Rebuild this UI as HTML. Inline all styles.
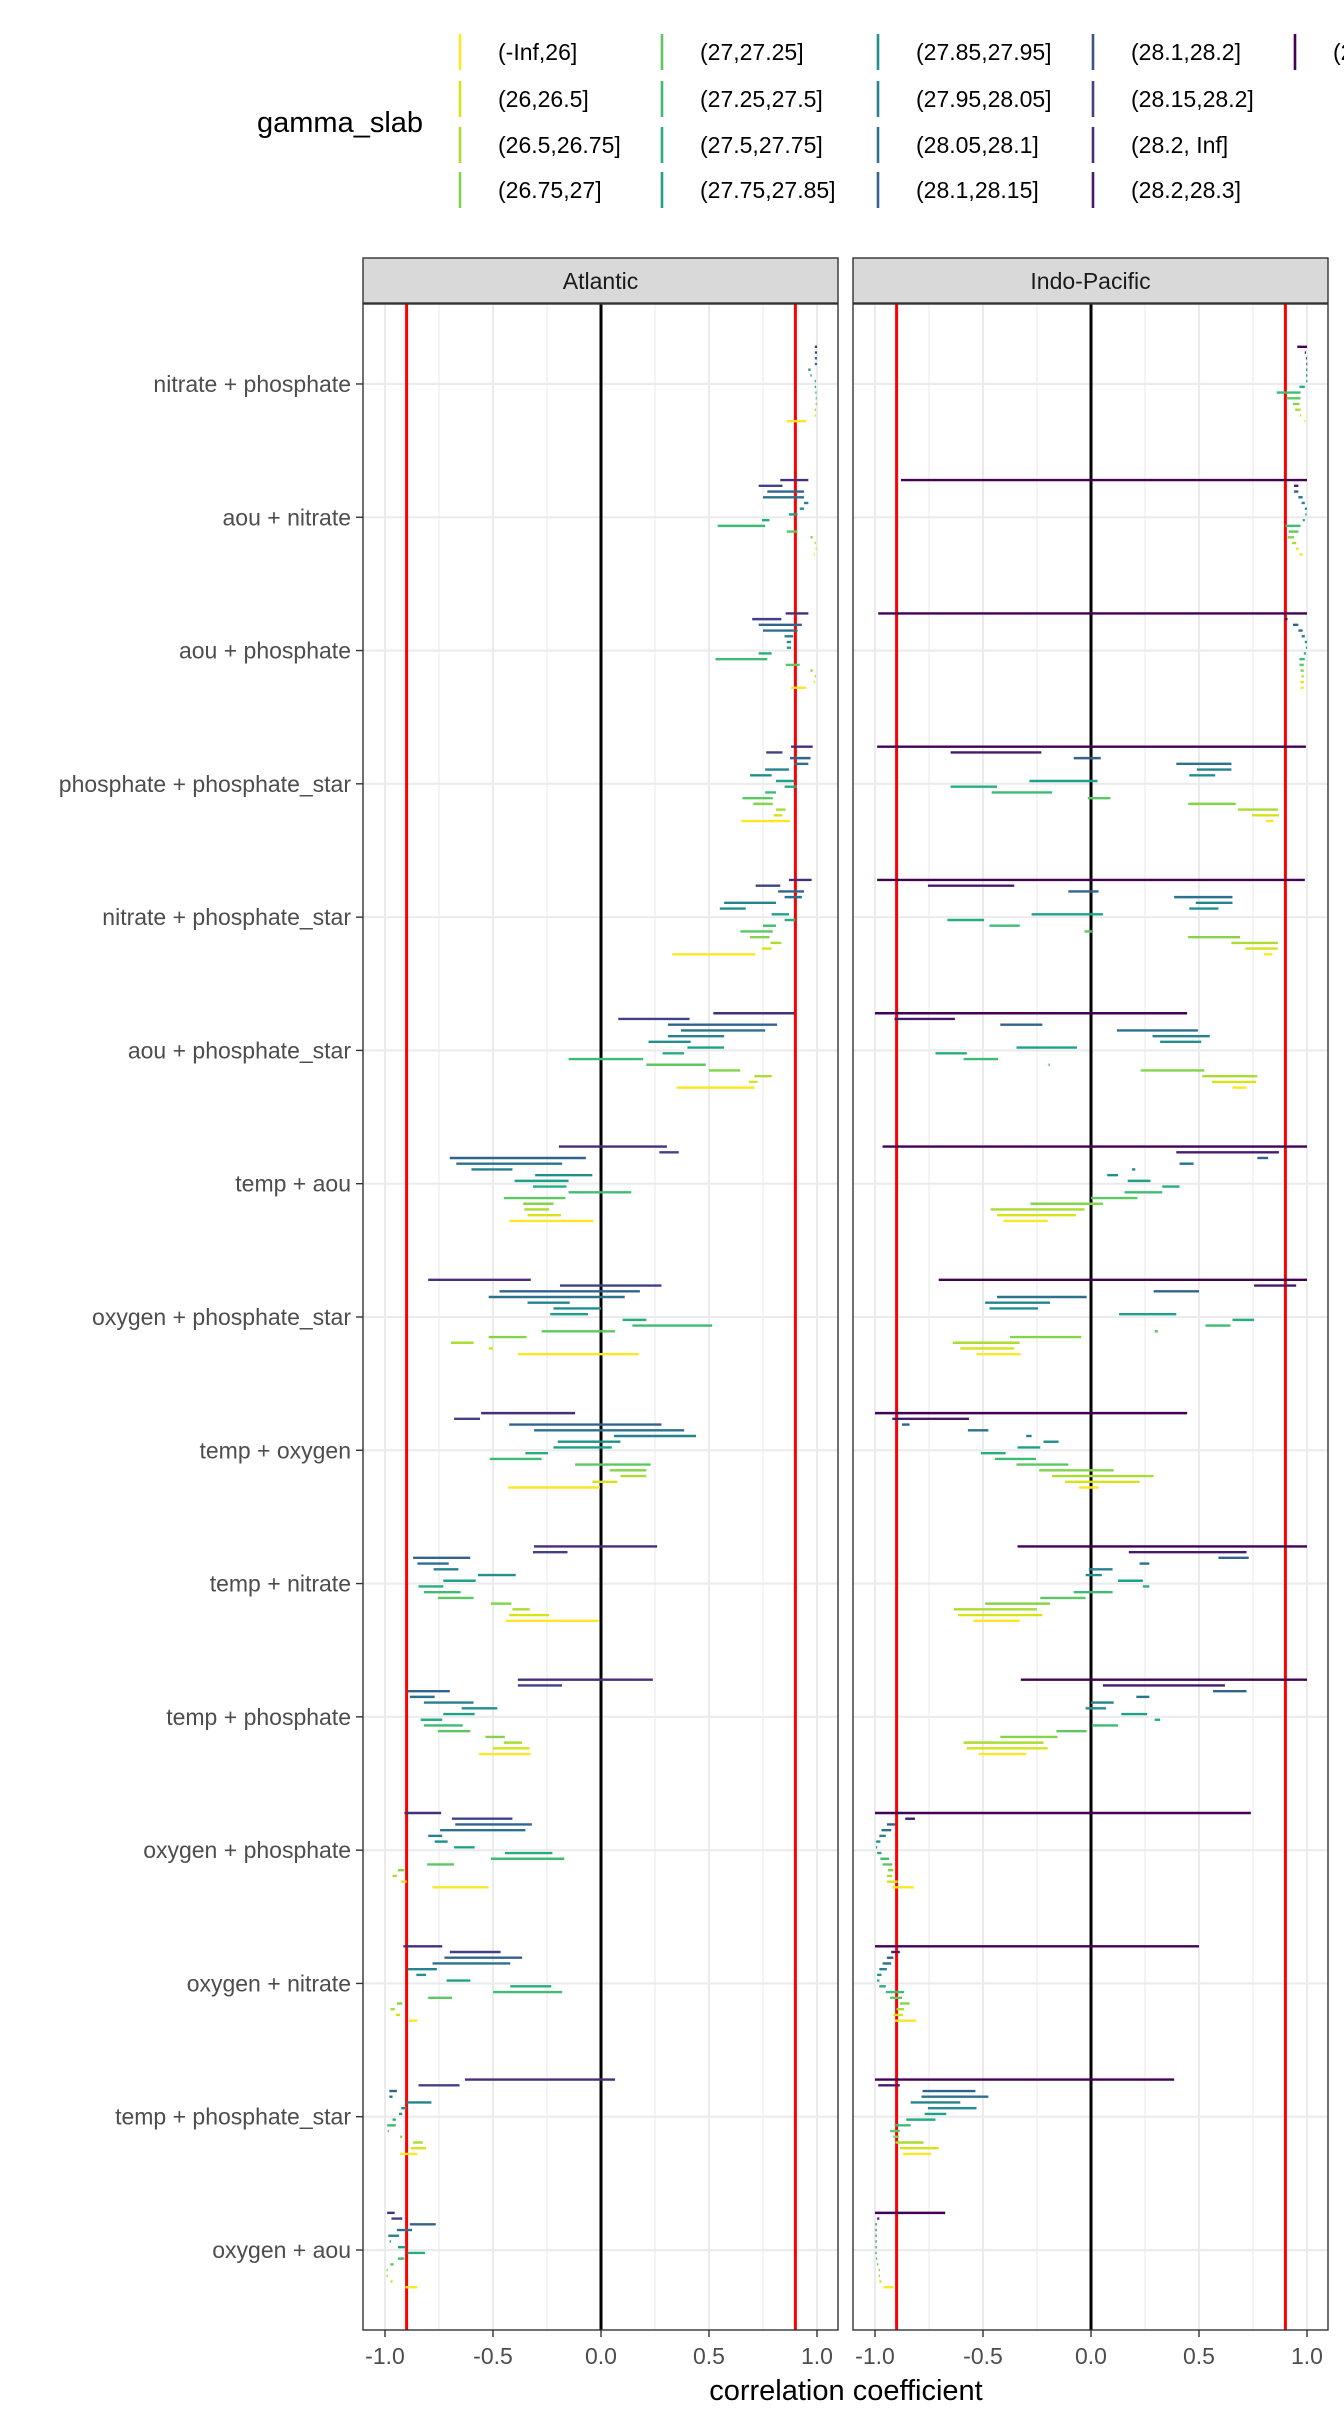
<!DOCTYPE html>
<html><head><meta charset="utf-8">
<style>
html,body{margin:0;padding:0;background:#fff;}
svg{display:block;font-family:"Liberation Sans",Arial,sans-serif;}
</style></head>
<body>
<svg id="chart" width="1344" height="2419" viewBox="0 0 1344 2419" xmlns="http://www.w3.org/2000/svg"></svg>
<script>
// ---- data ----
const categories = ["nitrate + phosphate","aou + nitrate","aou + phosphate","phosphate + phosphate_star","nitrate + phosphate_star","aou + phosphate_star","temp + aou","oxygen + phosphate_star","temp + oxygen","temp + nitrate","temp + phosphate","oxygen + phosphate","oxygen + nitrate","temp + phosphate_star","oxygen + aou"];
const xTicks = [-1.0,-0.5,0.0,0.5,1.0];
const xTickLabels = ["-1.0","-0.5","0.0","0.5","1.0"];
const refLines = [-0.9,0.9];
const slabLabels = ["(-Inf,26]","(26,26.5]","(26.5,26.75]","(26.75,27]","(27,27.25]","(27.25,27.5]","(27.5,27.75]","(27.75,27.85]","(27.85,27.95]","(27.95,28.05]","(28.05,28.1]","(28.1,28.15]","(28.1,28.2]","(28.15,28.2]","(28.2, Inf]","(28.2,28.3]","(28.3, Inf]"];
// slab level used by each dodge row (row 0 = bottom)
const atlRowSlabs = [0,1,2,3,4,5,6,7,8,9,10,11,13,14];
const indoRowSlabs = [0,1,2,3,4,5,6,7,8,9,10,11,15,16];
// [lo, hi] per row, rows listed top (highest slab) to bottom
const atlantic = [
[[.99,1.0],[.99,1.0],[.99,1.0],[.99,1.0],[.96,.97],[.97,.975],[.99,.993],[.99,.995],[.993,.997],[.995,.998],[.995,.998],[.99,.995],[.99,.993],[.86,.95]],
[[.83,.96],[.73,.84],[.77,.94],[.75,.94],[.94,.96],[.92,.94],[.87,.91],[.745,.78],[.54,.76],[.86,.91],[.97,.98],[.99,.993],[.995,.998],[.985,.99]],
[[.855,.96],[.70,.835],[.73,.93],[.75,.91],[.85,.89],[.86,.88],[.86,.88],[.73,.79],[.53,.77],[.855,.92],[.97,.98],[.99,.995],[.985,.99],[.88,.95]],
[[.88,.98],[.765,.84],[.875,.97],[.895,.96],[.76,.87],[.69,.79],[.81,.895],[.85,.905],[.76,.81],[.655,.795],[.705,.795],[.81,.855],[.80,.84],[.65,.875]],
[[.87,.975],[.716,.83],[.82,.94],[.85,.93],[.57,.81],[.55,.67],[.79,.87],[.85,.90],[.75,.81],[.645,.795],[.69,.78],[.785,.835],[.745,.79],[.33,.715]],
[[.52,.895],[.08,.41],[.31,.815],[.37,.76],[.31,.57],[.22,.415],[.40,.57],[.285,.385],[-.15,.195],[.21,.485],[.50,.645],[.71,.79],[.685,.725],[.35,.71]],
[[-.195,.305],[.27,.36],[-.70,-.07],[-.67,-.18],[-.60,-.41],[-.305,-.04],[-.40,-.15],[-.315,-.16],[-.15,.14],[-.45,-.165],[-.36,-.22],[-.355,-.24],[-.34,-.185],[-.425,-.035]],
[[-.80,-.325],[-.19,.28],[-.47,.18],[-.52,.11],[-.34,-.145],[-.22,0],[-.235,-.06],[.10,.21],[.145,.515],[-.275,.065],[-.52,-.345],[-.695,-.59],[-.52,-.50],[-.385,.175]],
[[-.555,-.12],[-.68,-.56],[-.425,.28],[-.31,.385],[.06,.44],[-.20,.09],[-.22,.05],[-.35,-.245],[-.515,-.275],[-.12,.23],[.04,.21],[.09,.21],[-.04,.075],[-.43,-.005]],
[[-.31,.26],[-.315,-.155],[-.87,-.605],[-.85,-.705],[-.775,-.66],[-.57,-.395],[-.73,-.58],[-.845,-.73],[-.82,-.65],[-.755,-.59],[-.51,-.415],[-.41,-.33],[-.425,-.24],[-.44,-.01]],
[[-.385,.24],[-.385,-.18],[-.895,-.70],[-.885,-.77],[-.82,-.59],[-.645,-.48],[-.73,-.585],[-.835,-.735],[-.82,-.64],[-.755,-.605],[-.535,-.445],[-.45,-.365],[-.50,-.33],[-.565,-.325]],
[[-.91,-.74],[-.69,-.41],[-.675,-.32],[-.745,-.35],[-.80,-.735],[-.77,-.71],[-.68,-.585],[-.445,-.225],[-.51,-.17],[-.805,-.68],[-.94,-.91],[-.965,-.945],[-.925,-.90],[-.78,-.52]],
[[-.915,-.735],[-.70,-.465],[-.725,-.365],[-.78,-.42],[-.895,-.76],[-.855,-.81],[-.715,-.605],[-.42,-.23],[-.50,-.18],[-.80,-.69],[-.945,-.92],[-.975,-.955],[-.95,-.93],[-.89,-.85]],
[[-.63,.065],[-.845,-.655],[-.98,-.945],[-.98,-.965],[-.90,-.785],[-.925,-.90],[-.935,-.92],[-.965,-.95],[-.99,-.95],[-.988,-.982],[-.93,-.92],[-.87,-.825],[-.88,-.81],[-.93,-.85]],
[[-.99,-.955],[-.97,-.92],[-.885,-.765],[-.945,-.875],[-.985,-.935],[-.978,-.972],[-.94,-.905],[-.895,-.815],[-.94,-.91],[-.975,-.96],[-.992,-.988],[-.992,-.988],[-.975,-.965],[-.905,-.85]]
];
const indoPacific = [
[[.955,1.0],[.99,.995],[.995,1.0],[.997,1.0],[.997,1.0],[.997,1.0],[.997,1.0],[.965,.99],[.86,.97],[.905,.97],[.935,.965],[.945,.97],[.968,.972],[.988,.992]],
[[-.88,1.0],[.94,.96],[.94,.96],[.96,.98],[.975,.99],[.99,1.0],[.993,.997],[.98,.99],[.90,.97],[.915,.96],[.91,.94],[.93,.95],[.95,.96],[.965,.98]],
[[-.985,1.0],[.895,.91],[.935,.96],[.96,.98],[.975,.99],[.99,1.0],[.995,1.0],[.985,.995],[.965,.99],[.965,.985],[.97,.985],[.975,.985],[.97,.985],[.97,.985]],
[[-.99,.995],[-.65,-.23],[-.08,.045],[.395,.65],[.49,.65],[.455,.575],[-.285,.03],[-.65,-.435],[-.46,-.18],[-.015,.09],[.45,.67],[.68,.865],[.745,.87],[.81,.845]],
[[-.99,.99],[-.755,-.355],[-.105,.035],[.385,.655],[.485,.655],[.455,.59],[-.275,.055],[-.665,-.495],[-.47,-.33],[-.03,.005],[.45,.69],[.65,.865],[.715,.865],[.80,.84]],
[[-1.0,.445],[-.91,-.63],[-.42,-.225],[.12,.495],[.285,.55],[.32,.51],[-.345,-.065],[-.72,-.575],[-.59,-.43],[-.197,-.19],[.23,.525],[.515,.77],[.56,.765],[.655,.72]],
[[-.965,1.0],[.395,.87],[.77,.82],[.41,.475],[.19,.205],[.075,.125],[.17,.275],[.33,.41],[.155,.33],[0,.215],[-.28,.055],[-.465,-.03],[-.435,-.07],[-.405,-.20]],
[[-.705,1.0],[.755,.95],[.29,.50],[-.435,-.02],[-.49,-.19],[-.47,-.245],[.13,.395],[.655,.755],[.53,.645],[.295,.31],[-.375,-.045],[-.64,-.33],[-.605,-.355],[-.53,-.325]],
[[-1.0,.445],[-.92,-.565],[-.875,-.84],[-.57,-.475],[-.30,-.275],[-.22,-.15],[-.34,-.235],[-.51,-.395],[-.445,-.255],[-.345,-.105],[-.24,.105],[-.18,.29],[-.12,.225],[-.055,.035]],
[[-.34,1.0],[.175,.72],[.59,.73],[.225,.27],[-.01,.10],[-.025,.05],[.125,.24],[.24,.27],[-.08,.10],[-.235,-.025],[-.49,-.19],[-.635,-.25],[-.615,-.225],[-.545,-.33]],
[[-.325,1.0],[.055,.62],[.565,.72],[.21,.27],[0,.105],[-.025,.07],[.14,.26],[.295,.32],[.005,.125],[-.16,-.02],[-.42,-.155],[-.59,-.22],[-.575,-.20],[-.52,-.30]],
[[-1.0,.74],[-.86,-.815],[-.945,-.905],[-.97,-.925],[-.98,-.95],[-.995,-.975],[-.995,-.99],[-.99,-.97],[-.975,-.935],[-.965,-.92],[-.94,-.915],[-.945,-.92],[-.945,-.895],[-.92,-.82]],
[[-1.0,.50],[-.925,-.885],[-.945,-.915],[-.965,-.925],[-.98,-.945],[-.99,-.97],[-.99,-.98],[-.98,-.95],[-.95,-.865],[-.93,-.875],[-.885,-.84],[-.90,-.865],[-.915,-.87],[-.91,-.81]],
[[-1.0,.385],[-.985,-.885],[-.78,-.535],[-.785,-.475],[-.835,-.605],[-.755,-.53],[-.77,-.67],[-.855,-.72],[-.91,-.835],[-.93,-.885],[-.915,-.89],[-.905,-.775],[-.885,-.705],[-.87,-.74]],
[[-1.0,-.675],[-.99,-.98],[-.997,-.993],[-.997,-.993],[-.997,-.993],[-.997,-.993],[-.997,-.993],[-.997,-.993],[-.995,-.99],[-.99,-.985],[-.982,-.978],[-.982,-.978],[-.98,-.97],[-.96,-.915]]
];

// ---- layout ----
const NS = "http://www.w3.org/2000/svg";
const svg = document.getElementById("chart");
const viridis = ["#440154","#481a6c","#472d7b","#424086","#3b528b","#33638d","#2c728e","#26828e","#21908c","#1fa088","#27ad81","#3fbc73","#5dc863","#84d44b","#aadc32","#d8e219","#fde725"];
function slabColor(i){ return viridis[16 - i]; }
function el(tag, attrs, parent){
  const e = document.createElementNS(NS, tag);
  for (const k in attrs) e.setAttribute(k, attrs[k]);
  (parent || svg).appendChild(e);
  return e;
}
const panelTop = 304, panelBot = 2330;
const panels = [
  {name:"Atlantic", left:363, right:838, zero:601, data:atlantic, rows:atlRowSlabs, key:"atlantic"},
  {name:"Indo-Pacific", left:853, right:1328, zero:1091, data:indoPacific, rows:indoRowSlabs, key:"indo-pacific"}
];
const unit = 216;
const catStep = (panelBot - panelTop) / (categories.length - 1 + 1.2);
function yCat(i){ return panelTop + 0.6*catStep + i*catStep; }
const rowStep = 5.72;
function yRow(i, r){ return yCat(i) + 37.2 - r*rowStep; }

panels.forEach(p => {
  const xs = v => p.zero + v*unit;
  const g = el("g", {});
  
  
  el("rect", {x:p.left, y:panelTop, width:p.right-p.left, height:panelBot-panelTop, fill:"#fff"}, g);
  // minor grid
  [-0.75,-0.25,0.25,0.75].forEach(v => el("line",{x1:xs(v),x2:xs(v),y1:panelTop,y2:panelBot,stroke:"#ebebeb","stroke-width":1.1},g));
  xTicks.forEach(v => el("line",{x1:xs(v),x2:xs(v),y1:panelTop,y2:panelBot,stroke:"#ebebeb","stroke-width":2.1},g));
  categories.forEach((c,i) => el("line",{x1:p.left,x2:p.right,y1:yCat(i),y2:yCat(i),stroke:"#ebebeb","stroke-width":2.1},g));
  // reference lines
  refLines.forEach(v => {
    const l = el("line",{x1:xs(v),x2:xs(v),y1:panelTop,y2:panelBot,stroke:"#ff0000","stroke-width":3},g);
    
    
  });
  const z = el("line",{x1:xs(0),x2:xs(0),y1:panelTop,y2:panelBot,stroke:"#000","stroke-width":3},g);
  
  
  // segments
  p.data.forEach((rowsTop, ci) => {
    const n = rowsTop.length;
    rowsTop.forEach((pair, k) => {
      if (!pair) return;
      const r = n - 1 - k;
      const y = yRow(ci, r);
      let x1 = xs(pair[0]), x2 = xs(pair[1]);
      if (x2 - x1 < 1.2) { const m=(x1+x2)/2; x1=m-0.6; x2=m+0.6; }
      const s = el("line",{x1:x1,x2:x2,y1:y,y2:y,stroke:slabColor(p.rows[r]),"stroke-width":2.4},g);
      
      
    });
  });
  el("rect",{x:p.left, y:panelTop, width:p.right-p.left, height:panelBot-panelTop, fill:"none", stroke:"#333","stroke-width":1.4},g);
  // strip
  const st = el("rect",{x:p.left, y:258, width:p.right-p.left, height:45, fill:"#d9d9d9", stroke:"#333","stroke-width":1.4});
  
  
  const stt = el("text",{x:(p.left+p.right)/2, y:289, "font-size":23, fill:"#1a1a1a","text-anchor":"middle"});
  stt.textContent = p.name;
  
  
  // x axis
  xTicks.forEach((v,i) => {
    el("line",{x1:xs(v),x2:xs(v),y1:panelBot,y2:panelBot+7,stroke:"#333","stroke-width":1.4});
    const t = el("text",{x:xs(v), y:2364, "font-size":23, fill:"#4d4d4d","text-anchor":"middle"});
    t.textContent = xTickLabels[i];
    
    
  });
});

// y axis labels
categories.forEach((c,i) => {
  el("line",{x1:356,x2:363,y1:yCat(i),y2:yCat(i),stroke:"#333","stroke-width":1.4});
  const t = el("text",{x:351, y:yCat(i)+8, "font-size":23, fill:"#4d4d4d","text-anchor":"end"});
  t.textContent = c;
  
  
});

// axis title
const at = el("text",{x:846, y:2400, "font-size":29, fill:"#000","text-anchor":"middle"});
at.textContent = "correlation coefficient";



// legend
const lg = el("g",{});


const lt = el("text",{x:257, y:132, "font-size":29, fill:"#000"}, lg);
lt.textContent = "gamma_slab";


const colX = [460,662,878,1093,1295];
const rowY = [52,99,145,190];
slabLabels.forEach((lab,i) => {
  const c = Math.floor(i/4), r = i%4;
  const e = el("g",{}, lg);
  
  
  el("line",{x1:colX[c],x2:colX[c],y1:rowY[r]-18,y2:rowY[r]+18,stroke:slabColor(i),"stroke-width":2.6}, e);
  const t = el("text",{x:colX[c]+38, y:rowY[r]+8, "font-size":23, fill:"#000"}, e);
  t.textContent = lab;
});
</script>
</body></html>
